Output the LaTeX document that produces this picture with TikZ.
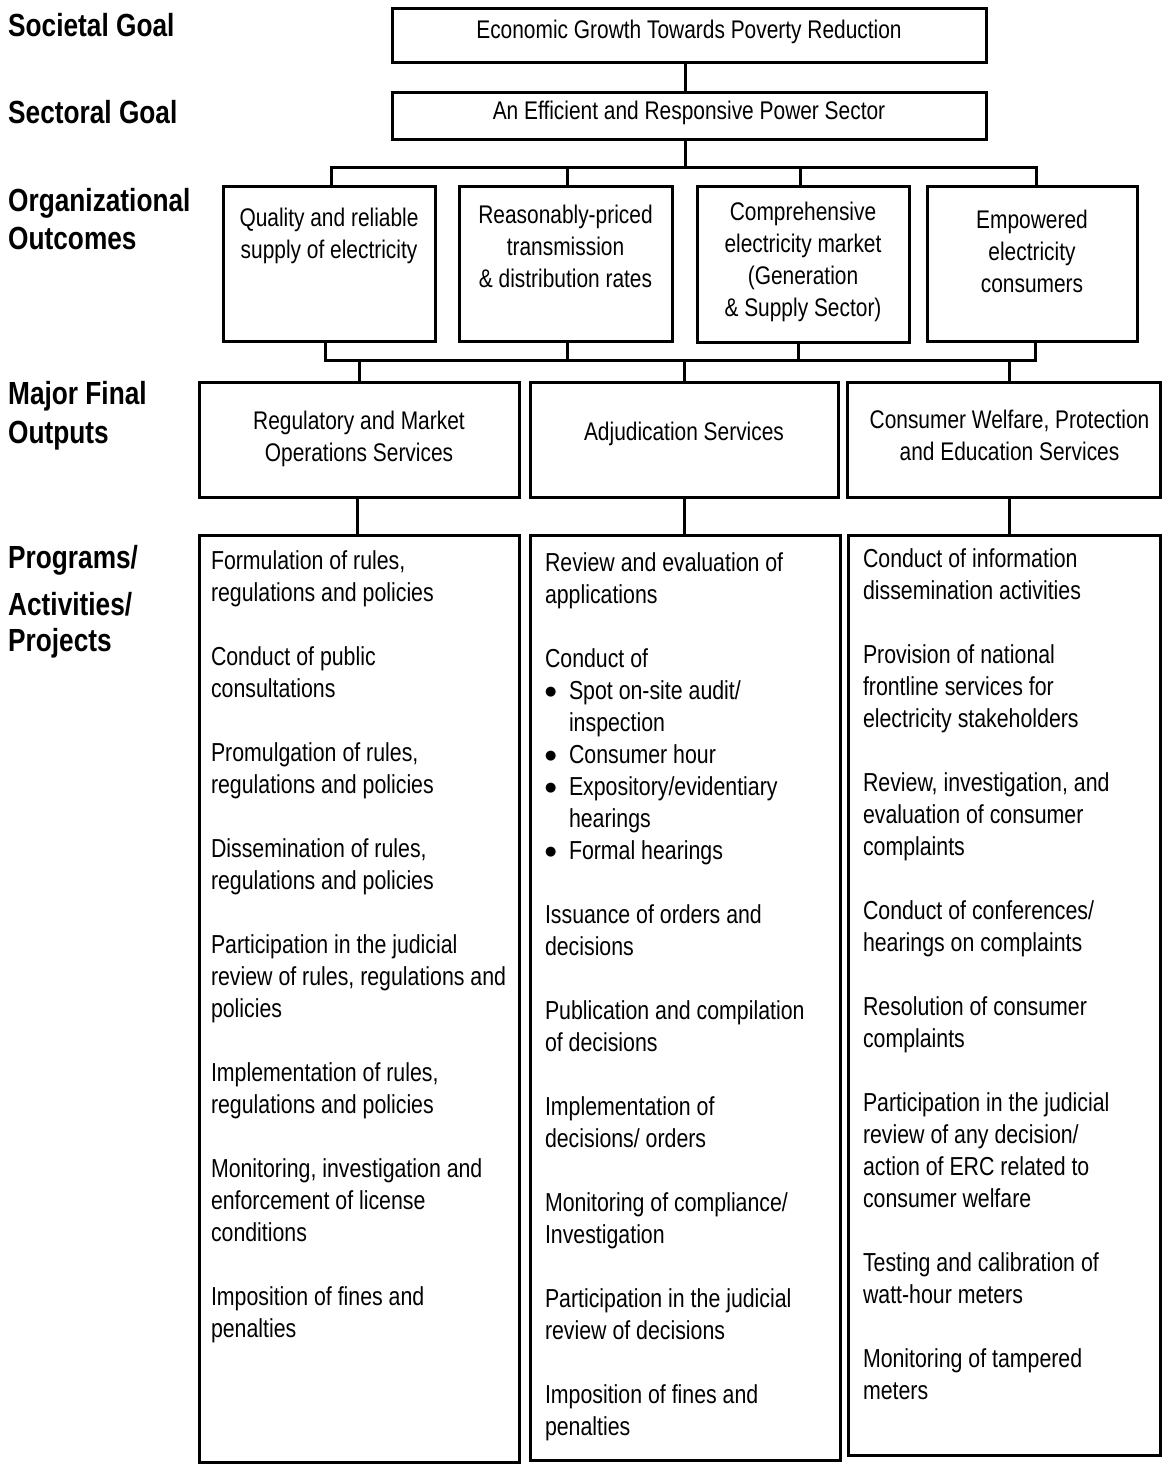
\documentclass[tikz,border=0pt]{standalone}
\usepackage{fontspec}
\setmainfont{Liberation Sans}[FakeStretch=0.82]
\newfontfamily\dejavu{DejaVu Sans}
\newcommand\boxc[5]{\begin{minipage}[c][#2][t]{#1}#4\vspace*{#3}\strut #5\end{minipage}}
\newcommand\cfont{\fontsize{25.5}{32}\selectfont}
\newcommand\lfont{\fontsize{26}{32}\selectfont}
\newcommand\hfont{\fontsize{32}{38}\selectfont\bfseries}
\newcommand\listfmt[1]{\lfont\raggedright\leftskip=#1\rightskip=-40pt plus 1fil\relax}
\newcommand\blt{\makebox[24pt][l]{\raisebox{3.5pt}{\dejavu\fontsize{13}{32}\selectfont ●}}}
\newcommand\ind{\hspace*{24pt}}
\newcommand\gap{\\[32pt]}
\begin{document}
\begin{tikzpicture}[x=1pt,y=-1pt,
  box/.style={draw, line width=3pt, inner sep=0pt, outer sep=0pt, rectangle, anchor=north west},
  conn/.style={line width=3pt},
  lbl/.style={inner sep=0pt, anchor=base west, font=\hfont}]
\useasboundingbox (0,0) rectangle (1164,1468);

% left labels
\node[lbl] (l1) at (8,36) {Societal Goal};
\node[lbl] (l2) at (8,123) {Sectoral Goal};
\node[lbl] (l3) at (8,211) {\vtop{\baselineskip=38pt\hbox{Organizational}\hbox{Outcomes}}};
\node[lbl] (l4) at (8,404) {\vtop{\baselineskip=39pt\hbox{Major Final}\hbox{Outputs}}};
\node[lbl] (l5) at (8,568) {\vtop{\baselineskip=36pt\hbox{Programs/}\vskip11pt\hbox{Activities/}\hbox{Projects}}};

% goals
\node[box] (soc) at (392,8) {\boxc{594pt}{54pt}{7.6pt}{\cfont\centering}{Economic Growth Towards Poverty Reduction}};
\node[box] (sec) at (392,92) {\boxc{594pt}{47pt}{4.6pt}{\cfont\centering}{An Efficient and Responsive Power Sector}};

% outcomes
\node[box] (o1) at (223,186) {\boxc{212pt}{155pt}{17.6pt}{\cfont\centering}{Quality and reliable\\supply of electricity}};
\node[box] (o2) at (459,186) {\boxc{213pt}{155pt}{14.6pt}{\cfont\centering}{Reasonably-priced\\transmission\\\& distribution rates}};
\node[box] (o3) at (697,186) {\boxc{212pt}{156pt}{11.6pt}{\cfont\centering}{Comprehensive\\electricity market\\(Generation\\\& Supply Sector)}};
\node[box] (o4) at (927,186) {\boxc{210pt}{155pt}{19.6pt}{\cfont\centering}{Empowered\\electricity\\consumers}};

% outputs
\node[box] (m1) at (199,382) {\boxc{320pt}{115pt}{24.6pt}{\cfont\centering}{Regulatory and Market\\Operations Services}};
\node[box] (m2) at (530,382) {\boxc{308pt}{115pt}{35.6pt}{\cfont\centering}{Adjudication Services}};
\node[box] (m3) at (847,382) {\boxc{313pt}{115pt}{23.6pt}{\cfont\centering\leftskip=12pt plus 1fil\relax}{Consumer Welfare, Protection\\and Education Services}};

% programs
\node[box] (p1) at (199,535) {\boxc{320pt}{927pt}{11.6pt}{\listfmt{12pt}}{%
Formulation of rules,\\regulations and policies\gap
Conduct of public\\consultations\gap
Promulgation of rules,\\regulations and policies\gap
Dissemination of rules,\\regulations and policies\gap
Participation in the judicial\\review of rules, regulations and\\policies\gap
Implementation of rules,\\regulations and policies\gap
Monitoring, investigation and\\enforcement of license\\conditions\gap
Imposition of fines and\\penalties}};

\node[box] (p2) at (530,535) {\boxc{310pt}{925pt}{13.6pt}{\listfmt{15pt}}{%
Review and evaluation of\\applications\gap
Conduct of\\
\blt Spot on-site audit/\\
\ind inspection\\
\blt Consumer hour\\
\blt Expository/evidentiary\\
\ind hearings\\
\blt Formal hearings\gap
Issuance of orders and\\decisions\gap
Publication and compilation\\of decisions\gap
Implementation of\\decisions/ orders\gap
Monitoring of compliance/\\Investigation\gap
Participation in the judicial\\review of decisions\gap
Imposition of fines and\\penalties}};

\node[box] (p3) at (848,535) {\boxc{312pt}{920pt}{9.6pt}{\listfmt{15pt}}{%
Conduct of information\\dissemination activities\gap
Provision of national\\frontline services for\\electricity stakeholders\gap
Review, investigation, and\\evaluation of consumer\\complaints\gap
Conduct of conferences/\\hearings on complaints\gap
Resolution of consumer\\complaints\gap
Participation in the judicial\\review of any decision/\\action of ERC related to\\consumer welfare\gap
Testing and calibration of\\watt-hour meters\gap
Monitoring of tampered\\meters}};

% connectors
\coordinate (b1) at (685,167);
\coordinate (b2) at (685,360);
\draw[conn] ([xshift=-4pt]soc.south) -- ([xshift=-4pt]sec.north);
\draw[conn] ([xshift=-4pt]sec.south) -- (b1);
\draw[conn] ([xshift=2pt]o1.north) -- ([xshift=2pt]o1.north |- b1) -- ([xshift=4pt]o4.north |- b1) -- ([xshift=4pt]o4.north);
\draw[conn] ([xshift=1.5pt]o2.north) -- ([xshift=1.5pt]o2.north |- b1);
\draw[conn] ([xshift=-3pt]o3.north) -- ([xshift=-3pt]o3.north |- b1);
\draw[conn] ([xshift=-4pt]o1.south) -- ([xshift=-4pt]o1.south |- b2) -- ([xshift=3pt]o4.south |- b2) -- ([xshift=3pt]o4.south);
\draw[conn] ([xshift=1.5pt]o2.south) -- ([xshift=1.5pt]o2.south |- b2);
\draw[conn] ([xshift=-5pt]o3.south) -- ([xshift=-5pt]o3.south |- b2);
\draw[conn] (m1.north) -- (m1.north |- b2);
\draw[conn] (m2.north) -- (m2.north |- b2);
\draw[conn] ([xshift=6pt]m3.north) -- ([xshift=6pt]m3.north |- b2);
\draw[conn] ([xshift=-2pt]m1.south) -- ([xshift=-2pt]m1.south |- p1.north);
\draw[conn] (m2.south) -- (m2.south |- p2.north);
\draw[conn] ([xshift=6pt]m3.south) -- ([xshift=6pt]m3.south |- p3.north);
\end{tikzpicture}
\end{document}
